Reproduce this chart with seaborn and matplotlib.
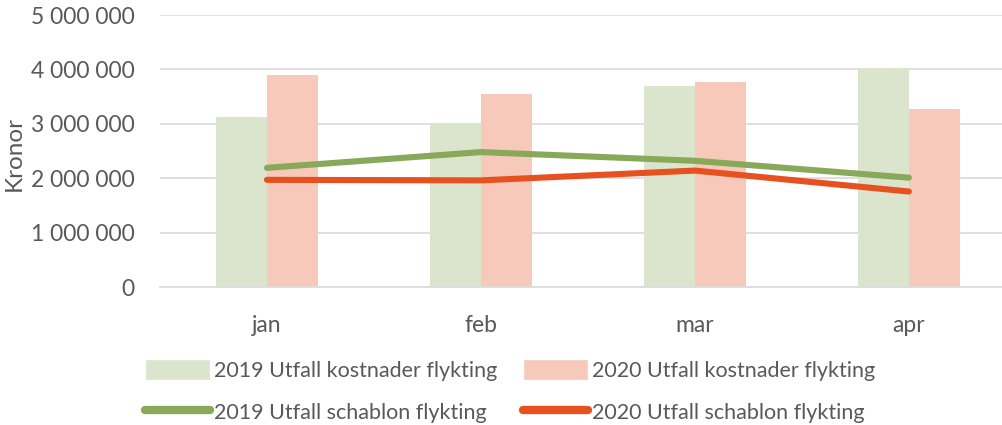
import matplotlib
matplotlib.use("Agg")
import matplotlib.pyplot as plt
import seaborn as sns
import pandas as pd
from matplotlib.patches import Patch
from matplotlib.lines import Line2D
from matplotlib.ticker import FuncFormatter

months = ["jan", "feb", "mar", "apr"]
cost_2019 = [3125000, 3000000, 3690000, 4020000]
cost_2020 = [3900000, 3540000, 3770000, 3270000]
template_2019 = [2190000, 2480000, 2320000, 2010000]
template_2020 = [1970000, 1960000, 2140000, 1755000]

bar_labels = ["2019 Utfall kostnader flykting", "2020 Utfall kostnader flykting"]
line_labels = ["2019 Utfall schablon flykting", "2020 Utfall schablon flykting"]

bar_colors = ["#dbe4cc", "#f7c9bb"]
line_colors = ["#88a85a", "#e6511f"]
text_color = "#595959"

bars = pd.DataFrame({
    "month": months * 2,
    "value": cost_2019 + cost_2020,
    "series": [bar_labels[0]] * 4 + [bar_labels[1]] * 4,
})
lines = pd.DataFrame({
    "month": months * 2,
    "value": template_2019 + template_2020,
    "series": [line_labels[0]] * 4 + [line_labels[1]] * 4,
})

sns.set_style("white")
plt.rcParams["font.family"] = ["Lato", "DejaVu Sans"]

fig = plt.figure(figsize=(10.03, 4.25), dpi=100)
ax = fig.add_axes([160 / 1003, 138 / 425, 843 / 1003, 272 / 425])

sns.barplot(data=bars, x="month", y="value", hue="series", palette=bar_colors,
            width=0.48, gap=0, saturation=1, errorbar=None, legend=False,
            linewidth=0, ax=ax)
sns.pointplot(data=lines, x="month", y="value", hue="series", palette=line_colors,
              markers="", errorbar=None, legend=False, linewidth=4.4, ax=ax)
for ln in ax.lines:
    ln.set_solid_capstyle("round")

ax.set_xlim(-0.5, 3.44)
ax.set_ylim(0, 5000000)
ax.set_yticks(range(0, 5000001, 1000000))
ax.yaxis.set_major_formatter(FuncFormatter(lambda v, p: f"{int(v):,}".replace(",", " ")))
ax.set_axisbelow(True)
ax.grid(axis="y", color="#dcdcdc", linewidth=1.3)
for side in ["left", "right", "top"]:
    ax.spines[side].set_visible(False)
ax.spines["bottom"].set_color("#dcdcdc")
ax.spines["bottom"].set_linewidth(1.3)
ax.tick_params(axis="both", length=0, labelsize=16.5, labelcolor=text_color)
ax.tick_params(axis="y", pad=18)
ax.tick_params(axis="x", pad=20)
ax.set_xlabel("")
ax.set_ylabel("Kronor", fontsize=17.5, color=text_color)
ax.yaxis.set_label_coords(-0.16, 0.49)

handles = [
    Patch(facecolor=bar_colors[0]),
    Line2D([], [], color=line_colors[0], linewidth=6, solid_capstyle="round"),
    Patch(facecolor=bar_colors[1]),
    Line2D([], [], color=line_colors[1], linewidth=6, solid_capstyle="round"),
]
labels = [bar_labels[0], line_labels[0], bar_labels[1], line_labels[1]]
fig.legend(handles, labels, ncol=2, loc="upper left", bbox_to_anchor=(126 / 1003, 1 - 340 / 425),
           frameon=False, fontsize=15.5, labelcolor=text_color, handlelength=3.0,
           handleheight=1.1, handletextpad=0.2, columnspacing=1.2, labelspacing=0.95)

fig.savefig("out.png", dpi=100)
